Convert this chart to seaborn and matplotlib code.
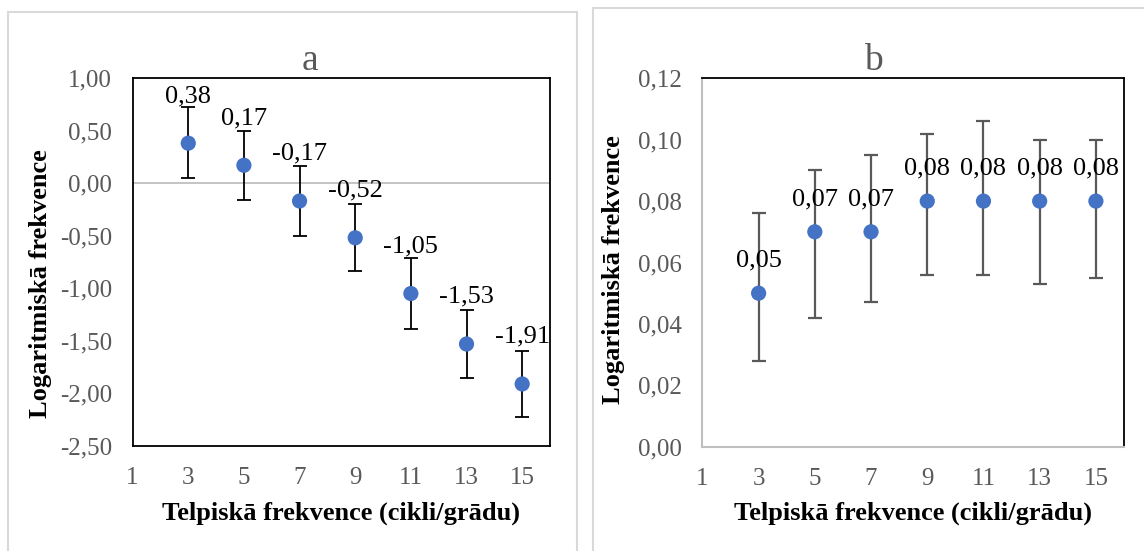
import matplotlib
matplotlib.use("Agg")
import matplotlib.pyplot as plt
import seaborn as sns
import pandas as pd
from matplotlib.patches import Rectangle

# ---- data ----
freq = [3, 5, 7, 9, 11, 13, 15]
a_values = [0.38, 0.17, -0.17, -0.52, -1.05, -1.53, -1.91]
a_err_low = [0.33, 0.33, 0.33, 0.32, 0.34, 0.32, 0.31]
a_err_high = [0.34, 0.33, 0.33, 0.32, 0.34, 0.32, 0.31]
b_values = [0.05, 0.07, 0.07, 0.08, 0.08, 0.08, 0.08]
b_err_low = [0.022, 0.028, 0.023, 0.024, 0.024, 0.027, 0.025]
b_err_high = [0.026, 0.020, 0.025, 0.022, 0.026, 0.020, 0.020]
a_ticks = [1.0, 0.5, 0.0, -0.5, -1.0, -1.5, -2.0, -2.5]
b_ticks = [0.0, 0.02, 0.04, 0.06, 0.08, 0.10, 0.12]
x_ticks = [1, 3, 5, 7, 9, 11, 13, 15]
titles = ["a", "b"]
xlabel = "Telpiskā frekvence (cikli/grādu)"
ylabel = "Logaritmiskā frekvence"

sns.set_theme(style="white")
plt.rcParams['font.family'] = ['Liberation Serif', 'DejaVu Serif']

W, H = 1144, 551
fig = plt.figure(figsize=(W / 100, H / 100), dpi=100)
fig.patch.set_facecolor("white")

def px_axes(x0, y0, x1, y1):
    return fig.add_axes([x0 / W, 1 - y1 / H, (x1 - x0) / W, (y1 - y0) / H])

# panel frames
fig.patches.append(Rectangle((8 / W, -0.05), (577 - 8) / W, 1 - 12 / H + 0.05,
                             transform=fig.transFigure, fill=False,
                             edgecolor="#D9D9D9", lw=1.5))
fig.patches.append(Rectangle((593 / W, -0.05), 0.5, 1 - 8 / H + 0.05,
                             transform=fig.transFigure, fill=False,
                             edgecolor="#D9D9D9", lw=1.5))

ax_a = px_axes(132.6, 78, 550, 446)
ax_b = px_axes(702.4, 78.3, 1124, 446.7)

marker_color = "#4472C4"
tick_color = "#595959"

def fmt(v, nd=2):
    return f"{v:.{nd}f}".replace(".", ",").replace("-0,00", "0,00")

# --- panel a ---
df_a = pd.DataFrame({"x": freq, "y": a_values})
ax_a.axhline(0, color="#BFBFBF", lw=1.3, zorder=1)
ax_a.errorbar(freq, a_values, yerr=[a_err_low, a_err_high], fmt="none",
              ecolor="black", elinewidth=1.3, capsize=5, capthick=1.3, zorder=2)
sns.scatterplot(data=df_a, x="x", y="y", ax=ax_a, color=marker_color, s=120,
                edgecolor="none", zorder=3, legend=False)
for x, y in zip(freq, a_values):
    ax_a.annotate(fmt(y), (x, y), xytext=(0, 34), textcoords="offset points",
                  ha="center", va="center", fontsize=19, color="black")
ax_a.set_xlim(1, 16)
ax_a.set_ylim(-2.5, 1.0)
ax_a.set_yticks(a_ticks)
ax_a.set_yticklabels([fmt(t) for t in a_ticks])
for s in ax_a.spines.values():
    s.set_color("black")
    s.set_linewidth(1.3)

# --- panel b ---
df_b = pd.DataFrame({"x": freq, "y": b_values})
ax_b.errorbar(freq, b_values, yerr=[b_err_low, b_err_high], fmt="none",
              ecolor="#595959", elinewidth=1.6, capsize=5, capthick=1.6, zorder=2)
sns.scatterplot(data=df_b, x="x", y="y", ax=ax_b, color=marker_color, s=120,
                edgecolor="none", zorder=3, legend=False)
for x, y in zip(freq, b_values):
    ax_b.annotate(fmt(y), (x, y), xytext=(0, 23.5), textcoords="offset points",
                  ha="center", va="center", fontsize=19, color="black")
ax_b.set_xlim(1, 16)
ax_b.set_ylim(0, 0.12)
ax_b.set_yticks(b_ticks)
ax_b.set_yticklabels([fmt(t) for t in b_ticks])
for side in ["top", "right"]:
    ax_b.spines[side].set_color("black")
    ax_b.spines[side].set_linewidth(1.3)
for side in ["left", "bottom"]:
    ax_b.spines[side].set_color("#BFBFBF")
    ax_b.spines[side].set_linewidth(1.5)

for ax, title, tx in [(ax_a, titles[0], 0.425), (ax_b, titles[1], 0.405)]:
    ax.set_xticks(x_ticks)
    ax.set_xticklabels([str(t) for t in x_ticks])
    ax.tick_params(axis="both", which="both", length=0, labelsize=18, colors=tick_color)
    ax.tick_params(axis="y", pad=15)
    ax.tick_params(axis="x", pad=15)
    ax.set_xlabel(xlabel, fontsize=19, fontweight="bold", color="black")
    ax.set_ylabel(ylabel, fontsize=19, fontweight="bold", color="black")
    ax.xaxis.set_label_coords(0.5, -0.15)
    ax.grid(False)
    ax.set_facecolor("white")
    ax.text(tx, 1.048, title, transform=ax.transAxes, ha="center", va="center",
            fontsize=27, color="#595959")

ax_a.yaxis.set_label_coords(-0.193, 0.44)
ax_b.yaxis.set_label_coords(-0.184, 0.48)

fig.savefig("out.png", dpi=100, facecolor="white")
